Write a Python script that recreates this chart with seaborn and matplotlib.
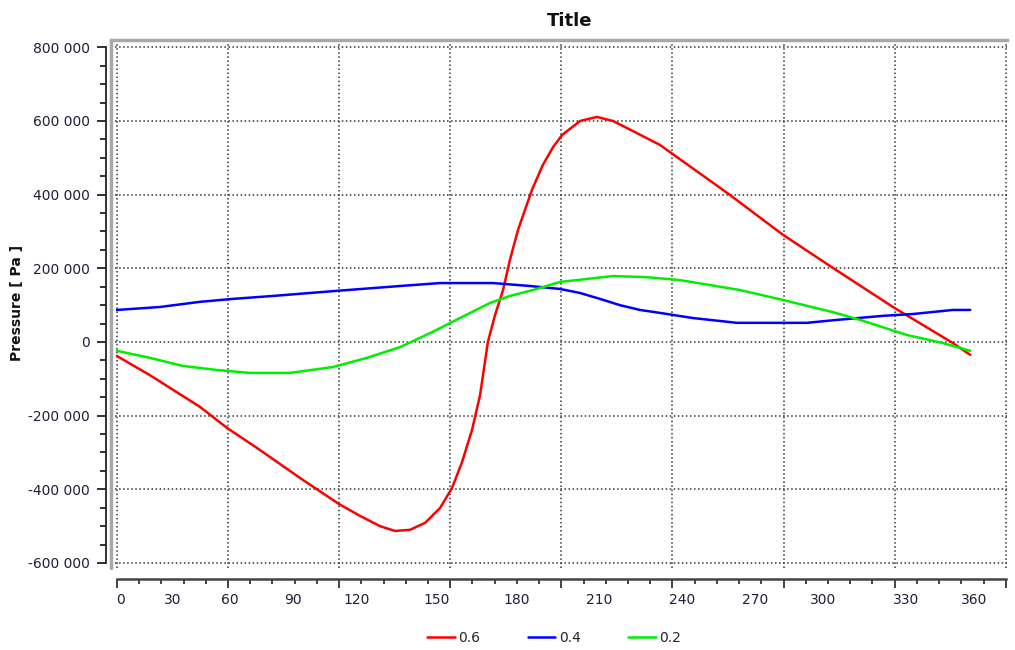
import pandas as pd
import seaborn as sns
import matplotlib.pyplot as plt
from matplotlib.lines import Line2D
from matplotlib.ticker import MultipleLocator, FuncFormatter
from matplotlib.transforms import blended_transform_factory

# series (angle in deg, pressure in Pa)
SERIES = ["0.6", "0.4", "0.2"]
COLORS = {"0.6": "#ff0000", "0.4": "#0000ff", "0.2": "#00ee00"}

red_angle = [0, 13.9, 35.0, 46.4, 60.3, 77.2, 93.7, 102.5, 111.0, 117.3, 123.6, 130.0,
             136.3, 141.4, 145.6, 149.8, 153.2, 156.5, 159.5, 162.9, 165.8, 169.2,
             175.1, 179.7, 184.0, 187.8, 195.4, 202.5, 209.3, 219.4, 229.1, 257.4,
             281.0, 302.1, 327.4, 352.7, 360.0]
red_pressure = [-38000, -90000, -176000, -233000, -293000, -369000, -440000, -472000,
                -500000, -513000, -510000, -491000, -451000, -396000, -326000, -239000,
                -144000, 0, 73000, 141000, 223000, 304000, 413000, 481000, 529000,
                562000, 600000, 611000, 600000, 567000, 535000, 405000, 291000, 201000,
                95000, -3000, -35000]

blue_angle = [0, 18.1, 35.0, 48.9, 65.8, 91.1, 119.4, 136.3, 158.6, 174.3, 186.9, 195.4,
              203.8, 212.2, 220.7, 229.1, 243.0, 261.6, 291.1, 303.8, 323.2, 335.9,
              352.7, 360.0]
blue_pressure = [87000, 95000, 109000, 117000, 125000, 138000, 152000, 160000, 160000,
                 152000, 144000, 133000, 117000, 100000, 87000, 79000, 65000, 52000,
                 52000, 60000, 71000, 76000, 87000, 87000]

green_angle = [0, 13.9, 27.8, 42.2, 56.1, 73.0, 91.1, 105.5, 119.4, 132.1, 144.7, 157.4,
               165.8, 175.5, 186.9, 209.3, 223.6, 237.6, 262.9, 281.0, 302.1, 313.5,
               333.3, 348.5, 360.0]
green_pressure = [-24000, -43000, -65000, -76000, -84000, -84000, -68000, -43000, -14000,
                  24000, 65000, 106000, 125000, 141000, 163000, 179000, 176000, 168000,
                  141000, 114000, 81000, 60000, 19000, -3000, -24000]

# bottom axis labels (the chart places them unevenly)
X_LABELS = ["0", "30", "60", "90", "120", "150", "180", "210", "240", "270", "300", "330", "360"]
X_LABEL_POS = [1.7, 23.6, 47.7, 74.3, 101.3, 135.0, 168.8, 203.4, 238.4, 269.2, 297.9, 332.9, 361.6]

sns.set_theme(style="white")
plt.rcParams['font.family'] = ['DejaVu Sans']

frames = []
for name, ang, p in [("0.6", red_angle, red_pressure),
                     ("0.4", blue_angle, blue_pressure),
                     ("0.2", green_angle, green_pressure)]:
    frames.append(pd.DataFrame({"angle": ang, "pressure": p, "series": name}))
df = pd.concat(frames, ignore_index=True)

fig = plt.figure(figsize=(10.15, 6.5), dpi=100)
ax = fig.add_axes([111 / 1015, 1 - 568 / 650, 896 / 1015, 528 / 650])

sns.lineplot(data=df, x="angle", y="pressure", hue="series", hue_order=SERIES,
             palette=COLORS, estimator=None, sort=False, linewidth=1.8,
             legend=False, ax=ax)

ax.set_xlim(-2.5, 375.5)
ax.set_ylim(-613600, 819900)
ax.set_xlabel("")
ax.set_ylabel("")

ax.xaxis.set_major_locator(MultipleLocator(46.875))
ax.xaxis.set_minor_locator(MultipleLocator(9.375))
ax.yaxis.set_major_locator(MultipleLocator(200000))
ax.yaxis.set_minor_locator(MultipleLocator(50000))
ax.yaxis.set_major_formatter(FuncFormatter(lambda v, p: f"{v:,.0f}".replace(",", " ")))

ax.grid(True, which='major', linestyle=':', color='#333333', linewidth=1.1)

# seaborn "white" switches ticks off, turn them back on
ax.tick_params(axis='x', which='both', bottom=True, direction='out', labelbottom=False,
               color='#333333', width=1.3)
ax.tick_params(axis='x', which='major', length=6.5)
ax.tick_params(axis='x', which='minor', length=3.6)
ax.tick_params(axis='y', which='both', left=True, direction='out', color='#222222',
               width=1.3, labelsize=10, labelcolor='#1e1e38', pad=5)
ax.tick_params(axis='y', which='major', length=6.5)
ax.tick_params(axis='y', which='minor', length=4)

# frame: grey top/left, separate black axes lines
ax.spines['right'].set_visible(False)
ax.spines['top'].set_color('#a8a8a8')
ax.spines['top'].set_linewidth(2.5)
ax.spines['left'].set_color('#222222')
ax.spines['left'].set_linewidth(1.3)
ax.spines['left'].set_position(('outward', 3.6))
ax.spines['left'].set_bounds(-600000, 800000)
ax.spines['bottom'].set_color('#444444')
ax.spines['bottom'].set_linewidth(1.8)
ax.spines['bottom'].set_position(('outward', 8))
ax.spines['bottom'].set_bounds(0, 375)
ax.plot([0, 0], [0, 1], transform=ax.transAxes, color='#a8a8a8', lw=2.5, clip_on=False)

trans = blended_transform_factory(ax.transData, ax.transAxes)
for pos, lab in zip(X_LABEL_POS, X_LABELS):
    ax.text(pos, -0.0606, lab, transform=trans, ha='center', va='center',
            fontsize=10, color='#1e1e38')

fig.text(570 / 1015, 1 - 21 / 650, "Title", ha='center', va='center',
         fontsize=13, fontweight='bold', color='#111111')
fig.text(17 / 1015, 1 - 303 / 650, "Pressure [ Pa ]", rotation=90, ha='center',
         va='center', fontsize=10, fontweight='bold', color='#111111')

handles = [Line2D([], [], color=COLORS[s], lw=1.8) for s in SERIES]
fig.legend(handles, SERIES, loc='center', bbox_to_anchor=(554 / 1015, 1 - 638 / 650),
           ncol=3, frameon=False, fontsize=10, handlelength=2.0, handletextpad=0.25,
           columnspacing=3.4)

fig.savefig("out.png", dpi=100)
